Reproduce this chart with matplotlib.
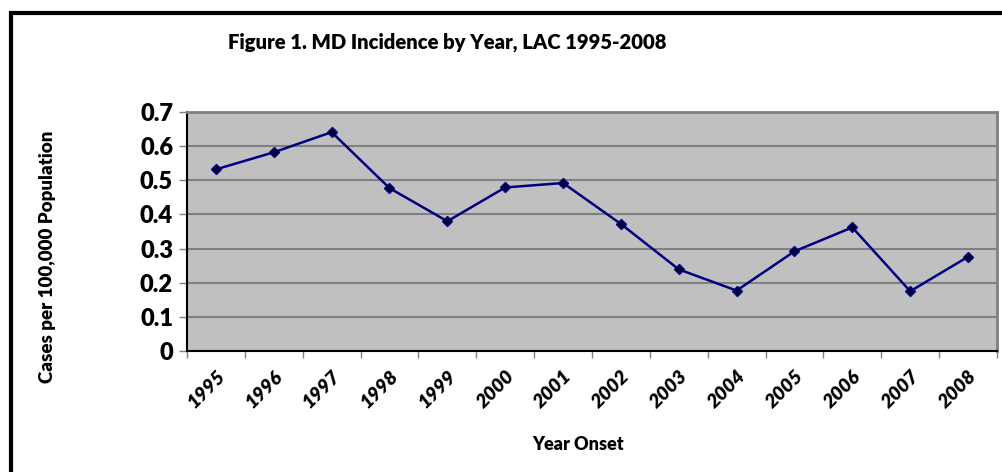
import matplotlib
matplotlib.use("Agg")
import matplotlib.pyplot as plt
from matplotlib.patches import Rectangle
import numpy as np

years = ["1995", "1996", "1997", "1998", "1999", "2000", "2001",
         "2002", "2003", "2004", "2005", "2006", "2007", "2008"]
incidence = [0.532, 0.582, 0.641, 0.477, 0.380, 0.479, 0.492,
             0.372, 0.239, 0.177, 0.292, 0.362, 0.175, 0.276]
yticks = [0, 0.1, 0.2, 0.3, 0.4, 0.5, 0.6, 0.7]
ytick_labels = ["0", "0.1", "0.2", "0.3", "0.4", "0.5", "0.6", "0.7"]

plt.rcParams['font.family'] = ['Lato', 'DejaVu Sans']
WT = 'heavy'

W, H = 1003, 472
fig = plt.figure(figsize=(W / 100, H / 100), dpi=100)
fig.patch.set_facecolor('white')

# outer frame
fig.patches.append(Rectangle((10.5 / W, -0.1), 1.2, 1 - 12.5 / H + 0.1,
                             transform=fig.transFigure, fill=False,
                             edgecolor='black', linewidth=3, zorder=10))

left, right, top, bottom = 187, 997, 112, 351
ax = fig.add_axes([left / W, 1 - bottom / H, (right - left) / W, (bottom - top) / H])
ax.set_facecolor('#C0C0C0')

x = np.arange(len(years))
ax.plot(x, incidence, color='#000080', linewidth=1.8, marker='D', markersize=5,
        markerfacecolor='#000033', markeredgecolor='#000080', zorder=3)

ax.set_xlim(-0.5, len(years) - 0.5)
ax.set_ylim(0, 0.7)
ax.set_yticks(yticks)
ax.set_yticklabels(ytick_labels, fontsize=17, fontweight=WT)
ax.yaxis.grid(True, color='#808080', linewidth=1.5)
ax.set_axisbelow(True)
ax.tick_params(axis='y', length=6, width=1, color='#808080', pad=4)

ax.set_xticks(x)
ax.set_xticklabels(years, rotation=45, ha='right', rotation_mode='anchor',
                   fontsize=14, fontweight=WT, fontstyle='italic')
ax.tick_params(axis='x', which='major', length=0, pad=12)
ax.set_xticks(np.arange(len(years) + 1) - 0.5, minor=True)
ax.tick_params(axis='x', which='minor', length=5, width=1, color='#808080')

for s in ['left', 'bottom']:
    ax.spines[s].set_color('black')
    ax.spines[s].set_linewidth(1.5)
for s in ['top', 'right']:
    ax.spines[s].set_color('#808080')
    ax.spines[s].set_linewidth(2)

fig.text(447 / W, 1 - 42 / H, "Figure 1. MD Incidence by Year, LAC 1995-2008",
         ha='center', va='center', fontsize=14.6, fontweight=WT)
fig.text(578 / W, 1 - 445 / H, "Year Onset", ha='center', va='center',
         fontsize=13, fontweight=WT)
fig.text(48 / W, 1 - 257 / H, "Cases per 100,000 Population", ha='center',
         va='center', rotation=90, fontsize=13.5, fontweight=WT)

fig.savefig("out.png", dpi=100, facecolor='white')
